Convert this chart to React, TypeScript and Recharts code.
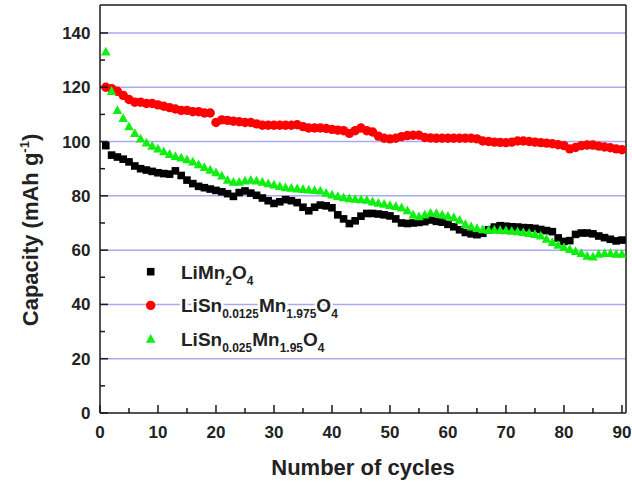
import React from 'react';
import { LineChart, Line, XAxis, YAxis, CartesianGrid, ReferenceLine, Legend } from 'recharts';

// cycle numbers 1..90
const cycles = Array.from({ length: 90 }, (_, i) => i + 1);

// LiMn2O4
const limn2o4 = [
  98.5, 95, 94.3, 93.5, 92.5, 91, 90, 89.5, 89, 88.5,
  88.2, 88, 89.2, 87.5, 85.8, 84.5, 83.5, 83, 82.5, 82,
  81.5, 80.8, 79.8, 81.2, 81.8, 81, 80.2, 79.2, 78.2, 77.2,
  77.8, 78.6, 78.2, 77.5, 75.8, 74.5, 75.8, 76.6, 76.3, 75.6,
  73, 71.5, 69.8, 70.8, 72.5, 73.5, 73.5, 73.3, 73, 72.6,
  71.5, 70, 69.8, 70, 70.2, 70.5, 71.1, 70.6, 70.3, 69.5,
  68.6, 67.5, 66.5, 66, 65.7, 66.2, 67.5, 68.5, 69, 68.8,
  68.6, 68.5, 68.3, 68.2, 68, 67.6, 67.2, 66.8, 64.5, 63.2,
  63.5, 65.8, 66.3, 66.3, 66, 65.2, 64.6, 64, 63.4, 63.7,
];

// LiSn0.0125Mn1.975O4
const sn0125 = [
  120, 119.5, 118.5, 117, 115.5, 114.5, 114.5, 114, 114, 113.5,
  113, 112.5, 112, 111.5, 111.5, 111, 111, 110.5, 110.5, 107,
  108, 107.8, 107.5, 107.3, 107, 107, 106.5, 106, 106, 106,
  106, 106, 106, 106.2, 105.5, 105, 105, 105, 104.8, 104.5,
  104.2, 104, 103, 104, 105, 104, 103.5, 102, 101.2, 101,
  101.2, 101.8, 102.2, 102.3, 102.3, 101.5, 101.3, 101.2, 101.2, 101.2,
  101.2, 101.2, 101.2, 101.2, 101, 100.2, 100, 99.8, 99.7, 99.6,
  99.8, 100.2, 100.2, 100, 99.8, 99.6, 99.4, 99.2, 98.8, 98.5,
  97.3, 97.8, 98.5, 98.7, 98.7, 98.3, 98, 97.7, 97.3, 97,
];

// LiSn0.025Mn1.95O4
const sn025 = [
  133, 118.5, 111.5, 108.5, 105.5, 103, 101, 99.5, 98.3, 97.3,
  96.3, 95.3, 94.5, 94, 93.3, 92.5, 91.5, 90.5, 89.5, 88.5,
  87.3, 85.8, 85, 85, 85.5, 85.8, 85.5, 85, 84.5, 84,
  83.5, 83, 82.8, 82.6, 82.4, 82.2, 82, 81.8, 81, 80.3,
  79.8, 79.3, 79, 78.8, 78.6, 78.4, 77.8, 77.3, 76.9, 76.5,
  76.1, 75.6, 74.5, 73, 72.3, 73, 73.6, 73.5, 73, 72.5,
  72, 71, 69.5, 68.6, 68, 67.5, 67.4, 67.4, 67.3, 67.2,
  67, 66.8, 66.5, 66.2, 65.8, 65.2, 64, 62.8, 61.8, 61,
  60.3, 59.5, 58.8, 57.8, 57.5, 58.5, 58.8, 58.8, 58.5, 58.5,
];

const xTicks = [0, 5, 10, 15, 20, 25, 30, 35, 40, 45, 50, 55, 60, 65, 70, 75, 80, 85, 90];
const yTicks = [0, 10, 20, 30, 40, 50, 60, 70, 80, 90, 100, 110, 120, 130, 140];
const gridValues = [20, 40, 60, 80, 100, 120, 140];

const X_MAX = 90.7;
const Y_MAX = 150.3;

const legendItems = [
  { key: 'limn', color: '#000000', shape: 'square', parts: [['LiMn', 0], ['2', 1], ['O', 0], ['4', 1]] },
  { key: 'sn0125', color: '#ff0000', shape: 'circle', parts: [['LiSn', 0], ['0.0125', 1], ['Mn', 0], ['1.975', 1], ['O', 0], ['4', 1]] },
  { key: 'sn025', color: '#11ee11', shape: 'triangle', parts: [['LiSn', 0], ['0.025', 1], ['Mn', 0], ['1.95', 1], ['O', 0], ['4', 1]] },
];

const data = cycles.map((c, i) => ({ cycle: c, limn: limn2o4[i], sn0125: sn0125[i], sn025: sn025[i] }));

const FONT = "Arial, 'Liberation Sans', Helvetica, sans-serif";
const AXIS = '#1a1a1a';

function Marker({ shape, color, cx, cy }: any) {
  if (cx == null || cy == null) return null;
  if (shape === 'square') return <rect x={cx - 3.8} y={cy - 3.8} width={7.6} height={7.6} fill={color} />;
  if (shape === 'circle') return <circle cx={cx} cy={cy} r={4.7} fill={color} />;
  return <polygon points={`${cx},${cy - 5.2} ${cx - 4.8},${cy + 3.6} ${cx + 4.8},${cy + 3.6}`} fill={color} />;
}

const XTick = ({ x, y, payload }: any) => {
  const major = payload.value % 10 === 0;
  return (
    <g>
      <line x1={x} x2={x} y1={y} y2={y - (major ? 8 : 5)} stroke={AXIS} strokeWidth={1.5} />
      {major && (
        <text x={x} y={y + 24.5} textAnchor="middle" fontFamily={FONT} fontWeight="bold" fontSize={17} fill="#222">
          {payload.value}
        </text>
      )}
    </g>
  );
};

const YTick = ({ x, y, payload }: any) => {
  const major = payload.value % 20 === 0;
  return (
    <g>
      <line x1={x} x2={x + (major ? 8 : 5)} y1={y} y2={y} stroke={AXIS} strokeWidth={1.5} />
      {major && (
        <text x={x - 9.5} y={y + 6} textAnchor="end" fontFamily={FONT} fontWeight="bold" fontSize={17} fill="#222">
          {payload.value}
        </text>
      )}
    </g>
  );
};

const renderLegend = () => (
  <svg width={632} height={484} style={{ position: 'absolute', left: 0, top: 0 }}>
    {legendItems.map((item, i) => {
      const cy = 271.7 + i * 33.7;
      return (
        <g key={item.key}>
          <Marker shape={item.shape} color={item.color} cx={150.7} cy={cy} />
          <text x={181} y={cy + 6.8} fontFamily={FONT} fontWeight="bold" fontSize={19} fill="#222"
            stroke="#fff" strokeWidth={5} paintOrder="stroke">
            {item.parts.map(([t, sub], j) => {
              const prevSub = j > 0 && item.parts[j - 1][1];
              const dy = sub ? 6 : prevSub ? -6 : 0;
              return (
                <tspan key={j} dy={dy} fontSize={sub ? 12 : 19}>{t}</tspan>
              );
            })}
          </text>
        </g>
      );
    })}
  </svg>
);

const renderYTitle = () => (
  <text transform="translate(38,230) rotate(-90)" textAnchor="middle" fontFamily={FONT} fontWeight="bold" fontSize={22} fill="#222">
    Capacity (mAh g<tspan fontSize={13} dy={-9}>-1</tspan><tspan dy={9}>)</tspan>
  </text>
);

const renderXTitle = () => (
  <text x={363} y={475} textAnchor="middle" fontFamily={FONT} fontWeight="bold" fontSize={22} fill="#222">
    Number of cycles
  </text>
);

export default function App() {
  return (
    <div style={{ position: 'absolute', left: 0, top: 0, width: 632, height: 484, background: '#fff' }}>
      <LineChart width={632} height={484} data={data} margin={{ top: 5, right: 6, bottom: 0, left: 0 }}>
        <CartesianGrid vertical={false} horizontalValues={gridValues} stroke="#a9a9f2" strokeWidth={1.5} />
        <XAxis
          dataKey="cycle"
          type="number"
          domain={[0, X_MAX]}
          ticks={xTicks}
          allowDataOverflow
          height={71}
          tickSize={0}
          tickMargin={0}
          tickLine={false}
          tick={<XTick />}
          axisLine={{ stroke: AXIS, strokeWidth: 1.5 }}
          label={{ content: renderXTitle }}
        />
        <YAxis
          type="number"
          domain={[0, Y_MAX]}
          ticks={yTicks}
          allowDataOverflow
          width={100}
          tickSize={0}
          tickMargin={0}
          tickLine={false}
          tick={<YTick />}
          axisLine={{ stroke: AXIS, strokeWidth: 1.5 }}
          label={{ content: renderYTitle }}
        />
        <ReferenceLine y={Y_MAX} stroke={AXIS} strokeWidth={1.5} />
        <ReferenceLine x={X_MAX} stroke={AXIS} strokeWidth={1.5} />
        <Line dataKey="limn" stroke="none" isAnimationActive={false} activeDot={false}
          dot={(p: any) => <Marker key={p.index} shape="square" color="#000000" cx={p.cx} cy={p.cy} />} />
        <Line dataKey="sn0125" stroke="none" isAnimationActive={false} activeDot={false}
          dot={(p: any) => <Marker key={p.index} shape="circle" color="#ff0000" cx={p.cx} cy={p.cy} />} />
        <Line dataKey="sn025" stroke="none" isAnimationActive={false} activeDot={false}
          dot={(p: any) => <Marker key={p.index} shape="triangle" color="#11ee11" cx={p.cx} cy={p.cy} />} />
        <Legend layout="vertical" align="center" verticalAlign="middle" content={renderLegend}
          wrapperStyle={{ left: 0, top: 0, width: 632, height: 484 }} />
      </LineChart>
    </div>
  );
}
